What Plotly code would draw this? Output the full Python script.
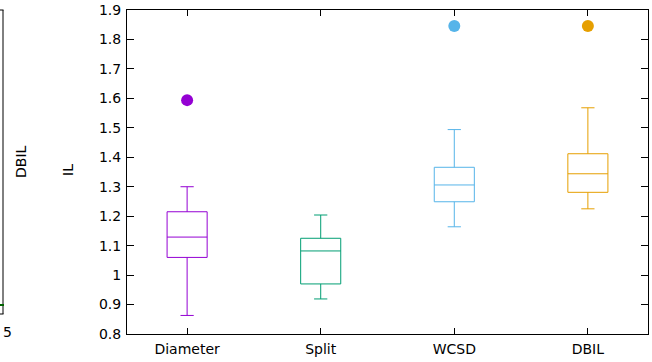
import plotly.graph_objects as go

categories = ["Diameter", "Split", "WCSD", "DBIL"]
colors = ["#9400d3", "#009e73", "#56b4e9", "#e69f00"]
lower_whisker = [0.863, 0.919, 1.164, 1.225]
q1 = [1.060, 0.970, 1.249, 1.281]
median = [1.129, 1.082, 1.306, 1.344]
q3 = [1.215, 1.125, 1.366, 1.412]
upper_whisker = [1.300, 1.204, 1.494, 1.568]
outliers = [[1.594], [], [1.846], [1.846]]
y_ticks = [0.8, 0.9, 1.0, 1.1, 1.2, 1.3, 1.4, 1.5, 1.6, 1.7, 1.8, 1.9]
y_ticklabels = ["0.8", "0.9", "1", "1.1", "1.2", "1.3", "1.4", "1.5", "1.6", "1.7", "1.8", "1.9"]

FONT = "DejaVu Sans"
fig = go.Figure()
positions = list(range(1, len(categories) + 1))
for i, cat in enumerate(categories):
    fig.add_trace(go.Box(
        x=[positions[i]], q1=[q1[i]], median=[median[i]], q3=[q3[i]],
        lowerfence=[lower_whisker[i]], upperfence=[upper_whisker[i]],
        name=cat, width=0.3, whiskerwidth=0.33, boxpoints=False,
        line=dict(color=colors[i], width=1), fillcolor="rgba(0,0,0,0)",
        showlegend=False, hoverinfo="skip"))
    if outliers[i]:
        fig.add_trace(go.Scatter(
            x=[positions[i]] * len(outliers[i]), y=outliers[i], mode="markers",
            marker=dict(color=colors[i], size=12), showlegend=False, hoverinfo="skip"))

fig.update_layout(
    width=652, height=362,
    margin=dict(l=127, r=4, t=10, b=28, autoexpand=False),
    paper_bgcolor="white", plot_bgcolor="white",
    font=dict(family=FONT, size=14, color="black"),
    showlegend=False,
    modebar=dict(bgcolor="rgba(0,0,0,0)", color="rgba(0,0,0,0)",
                 activecolor="rgba(0,0,0,0)"),
)
fig.update_xaxes(
    range=[0.55, 4.45], tickvals=positions, ticktext=categories,
    ticks="inside", ticklen=6, tickcolor="black", showline=True, linecolor="black",
    linewidth=1, mirror="ticks", showgrid=False, zeroline=False,
    ticklabelstandoff=2, automargin=False)
fig.update_yaxes(
    range=[0.8, 1.9], tickvals=y_ticks, ticktext=y_ticklabels,
    ticks="inside", ticklen=7, tickcolor="black", showline=True, linecolor="black",
    linewidth=1, mirror="ticks", showgrid=False, zeroline=False,
    ticklabelstandoff=2, ticklabeloverflow="allow", automargin=False)

# partial neighbouring panel on the left (cut off by the frame)
def px_x(p):
    return (p - 127) / 521.0

def px_y(p):
    return (334 - p) / 324.0

fig.add_shape(type="line", xref="paper", yref="paper", x0=px_x(3), x1=px_x(3),
              y0=px_y(10), y1=px_y(314), line=dict(color="black", width=1))
fig.add_shape(type="line", xref="paper", yref="paper", x0=px_x(0), x1=px_x(3.5),
              y0=px_y(10), y1=px_y(10), line=dict(color="black", width=1))
fig.add_shape(type="line", xref="paper", yref="paper", x0=px_x(0), x1=px_x(3.5),
              y0=px_y(314), y1=px_y(314), line=dict(color="black", width=1))
fig.add_shape(type="line", xref="paper", yref="paper", x0=px_x(0), x1=px_x(4),
              y0=px_y(305), y1=px_y(305), line=dict(color="#006400", width=2))
fig.add_annotation(xref="paper", yref="paper", x=px_x(0.5), y=px_y(332), text="5",
                   xanchor="left", yanchor="middle", showarrow=False,
                   font=dict(family=FONT, size=14))
fig.add_annotation(xref="paper", yref="paper", x=px_x(21), y=px_y(162), text="DBIL",
                   textangle=-90, xanchor="center", yanchor="middle", showarrow=False,
                   font=dict(family=FONT, size=14))
fig.add_annotation(xref="paper", yref="paper", x=px_x(68), y=px_y(170), text="IL",
                   textangle=-90, xanchor="center", yanchor="middle", showarrow=False,
                   font=dict(family=FONT, size=14))

# remove the browser's default 8px page margin so the figure fills the window
fig.write_html("out.html", config={"displayModeBar": False},
               post_script="document.body.style.margin='0';")
